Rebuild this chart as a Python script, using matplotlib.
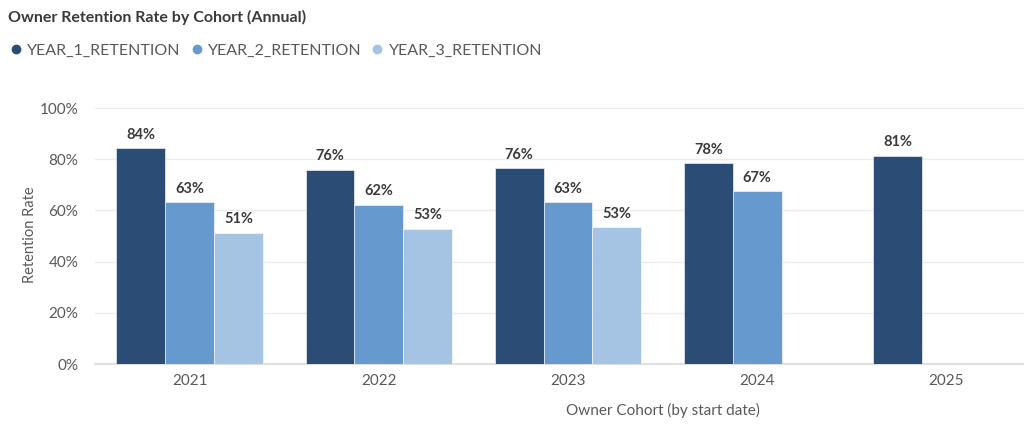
import numpy as np
import matplotlib.pyplot as plt
from matplotlib.lines import Line2D

plt.rcParams['font.family'] = ['Lato', 'DejaVu Sans']

cohorts = ["2021", "2022", "2023", "2024", "2025"]
year1 = [84.2, 75.9, 76.4, 78.4, 81.4]
year2 = [63.1, 62.2, 63.2, 67.4, None]
year3 = [51.3, 52.9, 53.4, None, None]
series_names = ["YEAR_1_RETENTION", "YEAR_2_RETENTION", "YEAR_3_RETENTION"]
colors = ["#2B4C74", "#6699CD", "#A5C3E2"]

text_dark = "#3A3A3A"
text_gray = "#595959"

fig = plt.figure(figsize=(10.24, 4.28), dpi=100)
ax = fig.add_axes([95 / 1024, 64 / 428, (1024 - 95) / 1024, 256 / 428])

x = np.arange(len(cohorts))
w = 0.258
for i, (vals, c) in enumerate(zip([year1, year2, year3], colors)):
    for xi, v in zip(x, vals):
        if v is None:
            continue
        xp = xi + (i - 1) * w
        ax.bar(xp, v, width=w, color=c, edgecolor="white", linewidth=0.4, zorder=3)
        ax.text(xp, v + 2.5, f"{round(v)}%", ha="center", va="bottom",
                fontsize=10.5, fontweight="bold", color=text_dark, clip_on=False)

ax.set_xlim(-0.5, 4.41)
ax.set_ylim(0, 100)
ax.set_yticks([0, 20, 40, 60, 80, 100])
ax.set_yticklabels([f"{t}%" for t in [0, 20, 40, 60, 80, 100]])
ax.set_xticks(x)
ax.set_xticklabels(cohorts)
ax.tick_params(axis="both", length=0, labelsize=11, colors=text_gray)
ax.tick_params(axis="y", pad=12)
ax.tick_params(axis="x", pad=7)
ax.grid(axis="y", color="#EBEBEB", linewidth=1, zorder=0)
for s in ["top", "right", "left"]:
    ax.spines[s].set_visible(False)
ax.spines["bottom"].set_color("#D9D9D9")
ax.spines["bottom"].set_linewidth(1.2)

fig.text(30 / 1024, 1 - 235 / 428, "Retention Rate", rotation=90, ha="center", va="center",
         fontsize=10.5, color=text_gray)
fig.text(663 / 1024, 1 - 410 / 428, "Owner Cohort (by start date)", ha="center", va="center",
         fontsize=11, color=text_gray)
fig.text(8 / 1024, 1 - 17 / 428, "Owner Retention Rate by Cohort (Annual)", ha="left", va="center",
         fontsize=11.5, fontweight="bold", color=text_dark)

handles = [Line2D([], [], marker="o", linestyle="none", markersize=6, color=c) for c in colors]
fig.legend(handles, series_names, loc="center left", bbox_to_anchor=(0.0, 1 - 51 / 428),
           ncol=3, frameon=False, fontsize=11.5, handletextpad=0.1, columnspacing=0.4,
           labelcolor=text_gray, borderaxespad=0, handlelength=1.2)

fig.savefig("out.png", dpi=100)
